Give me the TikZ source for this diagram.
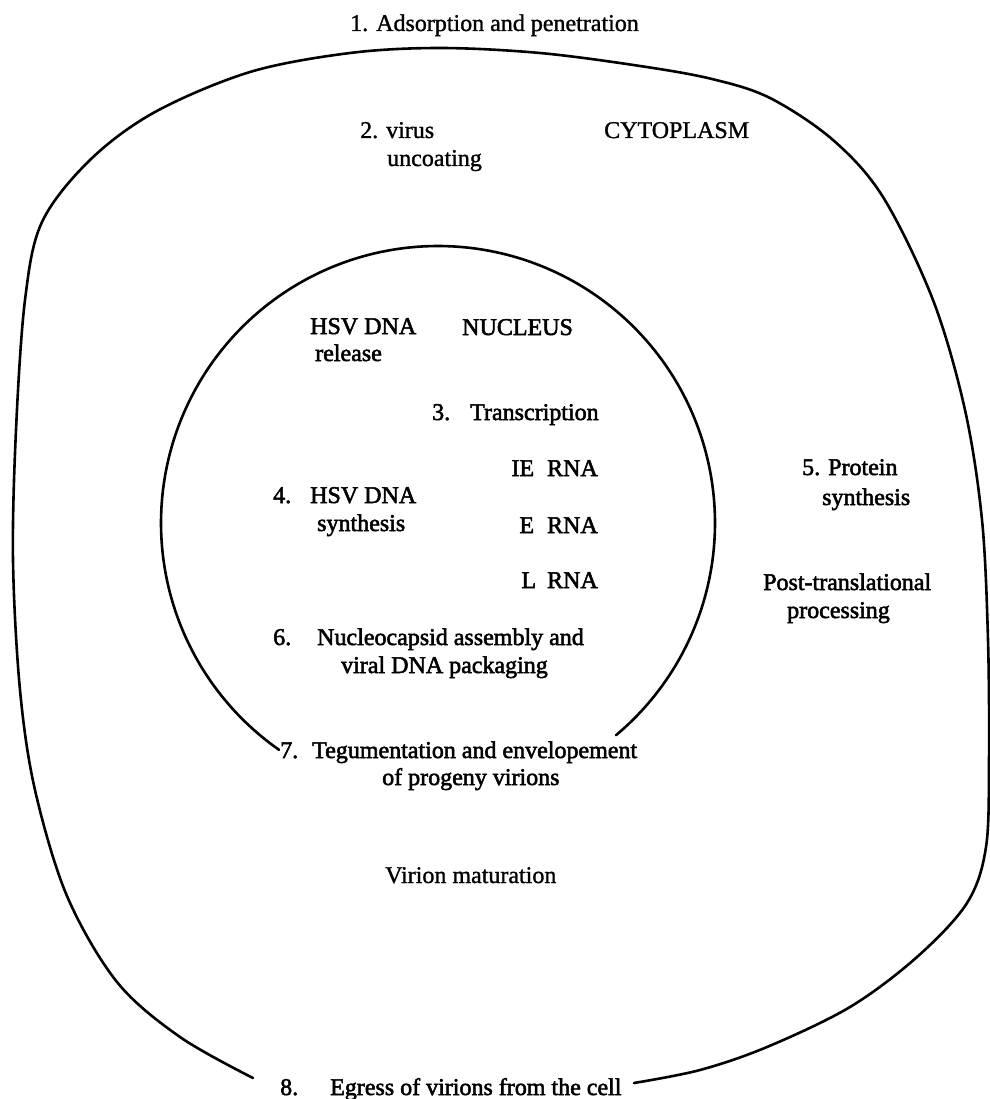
\documentclass[tikz,border=0pt]{standalone}
\usepackage{fontspec}
\setmainfont{Liberation Serif}
\newfontfamily\heavy[FakeBold=2.2]{Liberation Serif}
\newfontfamily\mediumf[FakeBold=1.2]{Liberation Serif}
\begin{document}
\begin{tikzpicture}[x=1pt,y=-1pt,
  lab/.style={inner sep=0pt, anchor=base west, font=\mediumf\fontsize{24}{28}\selectfont},
  hv/.style={inner sep=0pt, anchor=base west, font=\heavy\fontsize{24}{28}\selectfont},
  hvr/.style={inner sep=0pt, anchor=base east, font=\heavy\fontsize{24}{28}\selectfont},
  membrane/.style={line width=2.6pt, line cap=round, line join=round}]
\useasboundingbox[fill=white] (0,0) rectangle (989,1099);

% cell membrane
\draw[membrane] plot[smooth, tension=0.55] coordinates {
 (253,1078) (180,1037) (117,982) (67,896) (35,790) (20,690) (13,560) (16,430)
 (25,300) (42,222) (90,160) (155,112) (250,72) (350,53) (440,48) (540,53)
 (640,66) (712,79) (770,98) (833,140) (883,197) (933,300) (965,410) (982,520)
 (988,640) (989,760) (986,847) (967,903) (917,957) (850,1007) (767,1047)
 (700,1070) (634,1083)};

% nuclear membrane
\draw[membrane] plot[domain=50:-235, samples=120, smooth] ({438+277*cos(\x)}, {523+277*sin(\x)});

% labels
\node[lab] (n1) at (350,31) {1. Adsorption and penetration};
\node[lab] (n2a) at (360,138) {2. virus};
\node[lab] (n2b) at (387,166) {uncoating};
\node[lab] (cyto) at (604,138) {CYTOPLASM};

\node[hv] (rel1) at (310,334) {HSV DNA};
\node[hv] (rel2) at (315,361) {release};
\node[hv] (nuc) at (462,335) {NUCLEUS};
\node[hv] (t3n) at (432,420) {3.};
\node[hv] (t3) at (470,420) {Transcription};
\node[hvr] (ie) at (598,476) {IE\hspace{13pt}RNA};
\node[hvr] (e) at (598,533) {E\hspace{13pt}RNA};
\node[hvr] (l) at (598,588) {L\hspace{11pt}RNA};
\node[hv] (s4n) at (273,503) {4.};
\node[hv] (s4a) at (310,503) {HSV DNA};
\node[hv] (s4b) at (317,531) {synthesis};
\node[hv] (s6n) at (273,645) {6.};
\node[hv] (s6a) at (317,645) {Nucleocapsid assembly and};
\node[hv] (s6b) at (341,673) {viral DNA packaging};
\node[hv] (s7n) at (280,758) {7.};
\node[hv] (s7a) at (312,758) {Tegumentation and envelopement};
\node[hv] (s7b) at (382,785) {of progeny virions};

\node[hv] (s5a) at (802,475) {5. Protein};
\node[hv] (s5b) at (822,505) {synthesis};
\node[hv] (pt1) at (763,590) {Post-translational};
\node[hv] (pt2) at (787,618) {processing};

\node[lab] (vm) at (385,883) {Virion maturation};

\node[hv] (s8n) at (280,1095) {8.};
\node[hv] (s8) at (330,1095) {Egress of virions from the cell};
\end{tikzpicture}
\end{document}
